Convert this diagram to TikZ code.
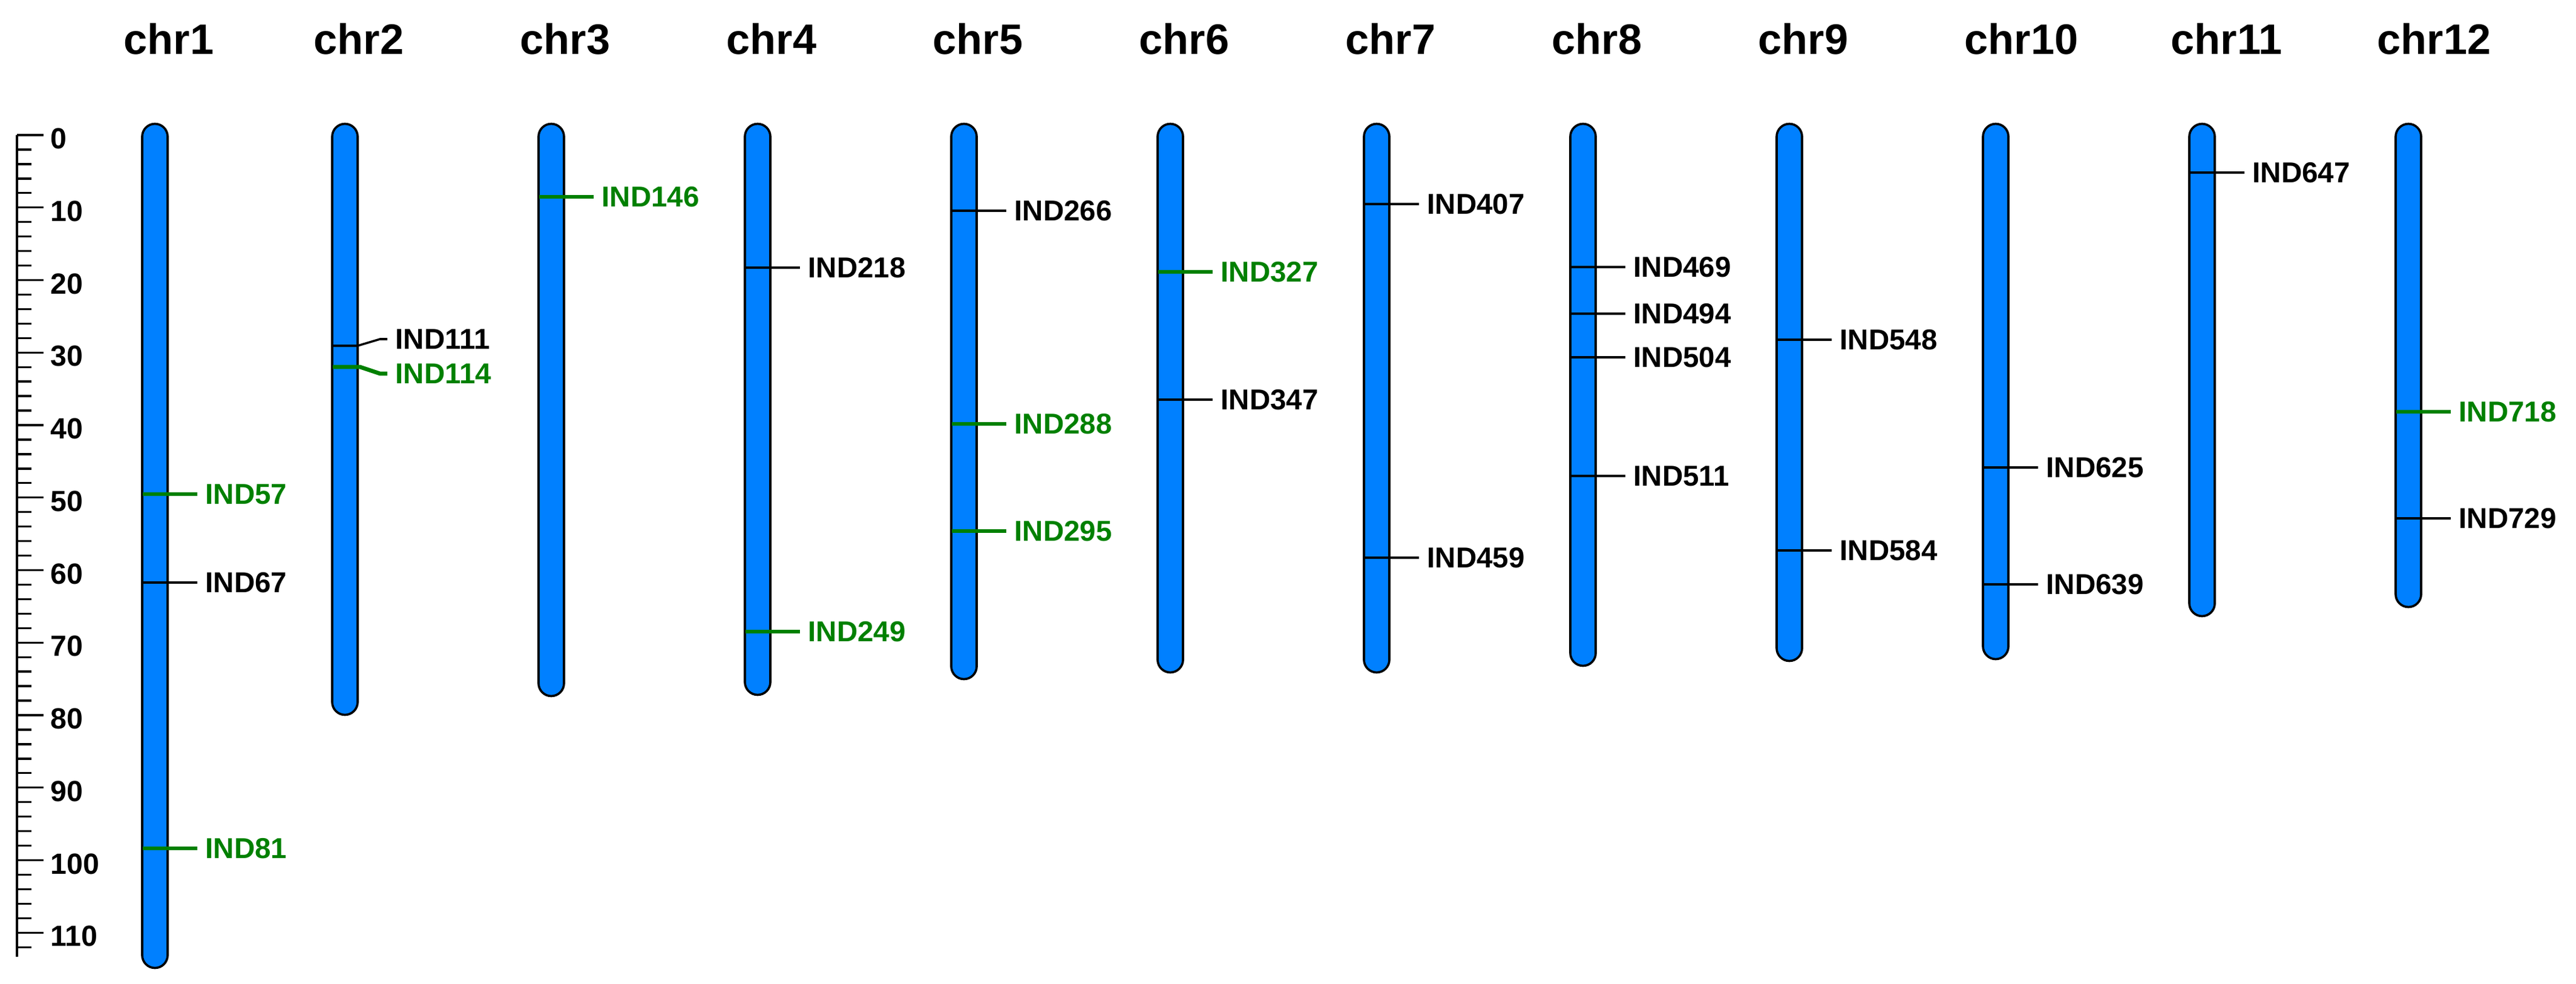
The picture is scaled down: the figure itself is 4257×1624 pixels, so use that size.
\documentclass[tikz,border=0pt]{standalone}
\usepackage{fontspec}
\setmainfont{Liberation Sans}
\definecolor{chrblue}{RGB}{0,128,255}
\definecolor{mkgreen}{RGB}{0,128,0}
\tikzset{
  chrom/.style={draw=black, line width=1.05pt, fill=chrblue, rounded corners=0.21cm},
  chrlbl/.style={font=\fontsize{20pt}{22pt}\selectfont\bfseries, inner sep=0pt, anchor=base west},
  lbl/.style={font=\fontsize{13.5pt}{15pt}\selectfont\bfseries, inner sep=0pt, anchor=west},
  blk/.style={text=black},
  grn/.style={text=mkgreen},
  blkline/.style={draw=black, line width=1pt},
  grnline/.style={draw=mkgreen, line width=1.9pt},
  axline/.style={draw=black, line width=1.15pt},
  tickline/.style={draw=black, line width=0.95pt},
  axlbl/.style={font=\fontsize{13.7pt}{15pt}\selectfont\bfseries, inner sep=0pt, anchor=west}
}
\newcommand{\chrbar}[2]{\draw[chrom] (#1-21,204.5) rectangle (#1+21,#2-1.5);}
\newcommand{\mrk}[4]{%
  \coordinate (#3-a) at (#1-20,#2);
  \node[lbl,#4] (#3) at (#1+83,#2) {#3};
  \draw[#4line] (#3-a) -- ([xshift=-0.13cm]#3.west);
}
\begin{document}
\begin{tikzpicture}[x=0.01cm, y=-0.01cm]
\useasboundingbox (0,0) rectangle (4257,1624);
% scale axis
\draw[axline] (28,223) -- (28,1580);
\foreach \k in {0,2,...,112} {\draw[tickline] (28,223+11.975*\k) -- (52,223+11.975*\k);}
\foreach \k in {0,10,...,110} {
  \draw[tickline] (28,223+11.975*\k) -- (72,223+11.975*\k);
  \node[axlbl] (ax\k) at (83,229+11.975*\k) {\k};
}
% chromosome titles
\foreach \c/\n in {256/1,570/2,911/3,1252/4,1593/5,1934/6,2275/7,2616/8,2957/9,3298/10,3639/11,3980/12} {
  \node[chrlbl] (t\n) at (\c-52,90) {chr\n};
}
% chromosome bars
\chrbar{256}{1600}
\chrbar{570}{1182}
\chrbar{911}{1151}
\chrbar{1252}{1149}
\chrbar{1593}{1123}
\chrbar{1934}{1112}
\chrbar{2275}{1112}
\chrbar{2616}{1101}
\chrbar{2957}{1093}
\chrbar{3298}{1090}
\chrbar{3639}{1019}
\chrbar{3980}{1004}
% markers
\mrk{256}{816}{IND57}{grn}
\mrk{256}{962}{IND67}{blk}
\mrk{256}{1401}{IND81}{grn}
% chr2 with bent connectors
\coordinate (IND111-a) at (550,571);
\coordinate (IND111-b) at (591,571);
\coordinate (IND111-c) at (628,560);
\node[lbl,blk] (IND111) at (653,560) {IND111};
\draw[blkline] (IND111-a) -- (IND111-b) -- (IND111-c) -- ([xshift=-0.13cm]IND111.west);
\coordinate (IND114-a) at (550,606);
\coordinate (IND114-b) at (595,606);
\coordinate (IND114-c) at (628,617);
\node[lbl,grn] (IND114) at (653,617) {IND114};
\draw[grnline] (IND114-a) -- (IND114-b) -- (IND114-c) -- ([xshift=-0.13cm]IND114.west);
\mrk{911}{325}{IND146}{grn}
\mrk{1252}{442}{IND218}{blk}
\mrk{1252}{1043}{IND249}{grn}
\mrk{1593}{348}{IND266}{blk}
\mrk{1593}{700}{IND288}{grn}
\mrk{1593}{877}{IND295}{grn}
\mrk{1934}{449}{IND327}{grn}
\mrk{1934}{660}{IND347}{blk}
\mrk{2275}{337}{IND407}{blk}
\mrk{2275}{921}{IND459}{blk}
\mrk{2616}{441}{IND469}{blk}
\mrk{2616}{518}{IND494}{blk}
\mrk{2616}{590}{IND504}{blk}
\mrk{2616}{786}{IND511}{blk}
\mrk{2957}{561}{IND548}{blk}
\mrk{2957}{909}{IND584}{blk}
\mrk{3298}{772}{IND625}{blk}
\mrk{3298}{965}{IND639}{blk}
\mrk{3639}{285}{IND647}{blk}
\mrk{3980}{680}{IND718}{grn}
\mrk{3980}{856}{IND729}{blk}
\end{tikzpicture}
\end{document}
